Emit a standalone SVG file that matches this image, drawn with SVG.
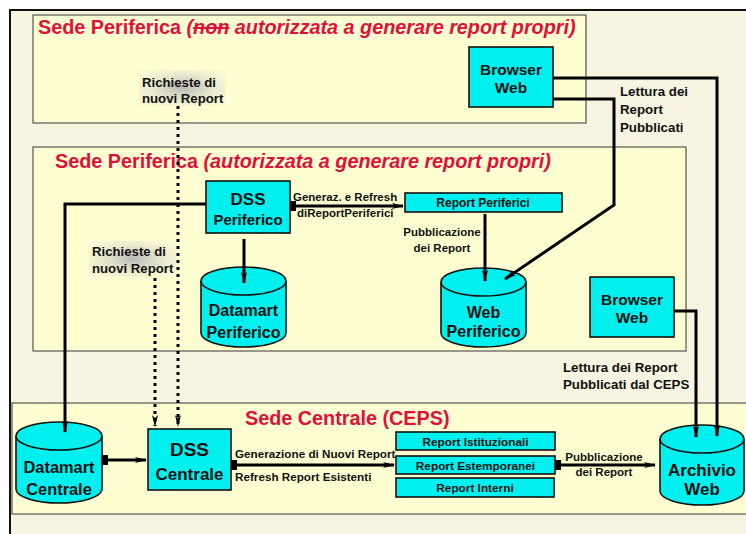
<svg xmlns="http://www.w3.org/2000/svg" width="746" height="534" viewBox="0 0 746 534">
<style>
.zone{fill:#ffffd2;stroke:#555;stroke-width:1.2}
.node{fill:#00f0f0;stroke:#111;stroke-width:1.6}
.title{font-family:"Liberation Sans",Arial,sans-serif;font-weight:bold;fill:#e0103a;font-size:19.8px}
.t{font-family:"Liberation Sans",Arial,sans-serif;font-weight:bold;fill:#111}
.conn{fill:none;stroke:#000;stroke-width:3}
.dot{fill:none;stroke:#000;stroke-width:3;stroke-dasharray:3 4}
</style>
<defs>
<marker id="ah" viewBox="0 0 12 8" refX="11" refY="4" markerWidth="12" markerHeight="8" markerUnits="userSpaceOnUse" orient="auto"><path d="M0,1 L12,4 L0,7 L3,4 Z" fill="#000"/></marker>
<marker id="sq" viewBox="0 0 6 10" refX="1" refY="5" markerWidth="6" markerHeight="10" markerUnits="userSpaceOnUse" orient="auto"><rect x="0" y="0" width="6" height="10" fill="#000"/></marker>
<radialGradient id="gl" cx="0.5" cy="0.5" r="0.6"><stop offset="0" stop-color="#b8b8b8"/><stop offset="1" stop-color="#ececd8" stop-opacity="0.3"/></radialGradient>
</defs>
<rect x="0" y="0" width="746" height="534" fill="#fff"/>
<rect x="10" y="10" width="740" height="530" fill="#f7f4e2"/>
<path d="M10,534 V10 H746" fill="none" stroke="#111" stroke-width="2"/>

<g id="zone-non-autorizzata">
<rect class="zone" x="33" y="15" width="553" height="108"/>
<text class="title" x="38" y="34">Sede Periferica <tspan font-style="italic">(<tspan text-decoration="line-through">non</tspan> autorizzata a generare report propri)</tspan></text>
</g>
<g id="zone-autorizzata">
<rect class="zone" x="33" y="147" width="653" height="204"/>
<text class="title" x="55" y="168">Sede Periferica <tspan font-style="italic">(autorizzata a generare report propri)</tspan></text>
</g>
<g id="zone-centrale">
<rect class="zone" x="12" y="403" width="740" height="111"/>
<text class="title" x="245" y="425">Sede Centrale (CEPS)</text>
</g>

<g id="label-richieste-1">
<rect x="139" y="70" width="87" height="36" fill="url(#gl)"/>
<text class="t" font-size="13.2" x="142" y="87">Richieste di</text>
<text class="t" font-size="13.2" x="142" y="103">nuovi Report</text>
</g>
<g id="label-richieste-2">
<rect x="89" y="241" width="87" height="36" fill="url(#gl)"/>
<text class="t" font-size="13.2" x="92" y="256">Richieste di</text>
<text class="t" font-size="13.2" x="92" y="273">nuovi Report</text>
</g>

<g id="browser-web-1">
<rect class="node" x="469" y="47" width="84" height="60"/>
<text class="t" font-size="15.5" x="511" y="75" text-anchor="middle">Browser</text>
<text class="t" font-size="15.5" x="511" y="93" text-anchor="middle">Web</text>
</g>
<g id="dss-periferico">
<rect class="node" x="206" y="181" width="84" height="52"/>
<text class="t" font-size="17" x="248" y="205" text-anchor="middle">DSS</text>
<text class="t" font-size="15" x="248" y="225" text-anchor="middle">Periferico</text>
</g>
<g id="report-periferici">
<rect class="node" x="405" y="193" width="157" height="19"/>
<text class="t" font-size="12" x="483" y="207" text-anchor="middle">Report Periferici</text>
</g>
<g id="datamart-periferico">
<path class="node" d="M201,281 V333 A42.5,14 0 0 0 286,333 V281"/>
<ellipse class="node" cx="243.5" cy="281" rx="42.5" ry="14"/>
<text class="t" font-size="16" x="243.5" y="316" text-anchor="middle">Datamart</text>
<text class="t" font-size="16" x="243.5" y="338" text-anchor="middle">Periferico</text>
</g>
<g id="web-periferico">
<path class="node" d="M441,282 V333 A42.5,14 0 0 0 526,333 V282"/>
<ellipse class="node" cx="483.5" cy="282" rx="42.5" ry="14"/>
<text class="t" font-size="16" x="483.5" y="318" text-anchor="middle">Web</text>
<text class="t" font-size="16" x="483.5" y="337" text-anchor="middle">Periferico</text>
</g>
<g id="browser-web-2">
<rect class="node" x="590" y="277" width="84" height="60"/>
<text class="t" font-size="15.5" x="632" y="305" text-anchor="middle">Browser</text>
<text class="t" font-size="15.5" x="632" y="323" text-anchor="middle">Web</text>
</g>
<g id="datamart-centrale">
<path class="node" d="M16,436 V489 A43,14 0 0 0 102,489 V436"/>
<ellipse class="node" cx="59" cy="436" rx="43" ry="14"/>
<text class="t" font-size="16.4" x="59" y="473" text-anchor="middle">Datamart</text>
<text class="t" font-size="16.4" x="59" y="495" text-anchor="middle">Centrale</text>
</g>
<g id="dss-centrale">
<rect class="node" x="148" y="429" width="83" height="61"/>
<text class="t" font-size="19" x="189.5" y="456" text-anchor="middle">DSS</text>
<text class="t" font-size="17" x="189.5" y="480" text-anchor="middle">Centrale</text>
</g>
<g id="report-istituzionali">
<rect class="node" x="396" y="432" width="159" height="18"/>
<text class="t" font-size="11.8" x="475.5" y="445.5" text-anchor="middle">Report Istituzionali</text>
</g>
<g id="report-estemporanei">
<rect class="node" x="396" y="456" width="159" height="18"/>
<text class="t" font-size="11.8" x="475.5" y="469.5" text-anchor="middle">Report Estemporanei</text>
</g>
<g id="report-interni">
<rect class="node" x="396" y="478" width="158" height="19"/>
<text class="t" font-size="11.8" x="475" y="492" text-anchor="middle">Report Interni</text>
</g>
<g id="archivio-web">
<path class="node" d="M660,439 V491 A42,14 0 0 0 744,491 V439"/>
<ellipse class="node" cx="702" cy="439" rx="42" ry="14"/>
<text class="t" font-size="17" x="702" y="476" text-anchor="middle">Archivio</text>
<text class="t" font-size="17" x="702" y="495" text-anchor="middle">Web</text>
</g>

<g id="connectors">
<path class="dot" d="M178,106 V426" marker-end="url(#ah)"/>
<path class="dot" d="M155,278 V426" marker-end="url(#ah)"/>
<path class="conn" d="M553,78 H717 V436" marker-end="url(#ah)"/>
<path class="conn" d="M553,99 H614 V205 L505,279" stroke-width="2.5" marker-end="url(#ah)"/>
<path class="conn" d="M206,204 H65 V432" marker-end="url(#ah)"/>
<path class="conn" d="M244,239 V283" marker-end="url(#ah)"/>
<path class="conn" d="M291,206 H403" marker-start="url(#sq)" marker-end="url(#ah)"/>
<path class="conn" d="M485,214 V281" marker-end="url(#ah)"/>
<path class="conn" d="M674,311 H696 V437" marker-end="url(#ah)"/>
<path class="conn" d="M103,460 H146" marker-start="url(#sq)" marker-end="url(#ah)"/>
<path class="conn" d="M232,465 H394" marker-start="url(#sq)" marker-end="url(#ah)"/>
<path class="conn" d="M556,465 H655" marker-start="url(#sq)" marker-end="url(#ah)"/>
</g>

<g id="connector-labels">
<text class="t" font-size="13.3" x="620" y="96">Lettura dei</text>
<text class="t" font-size="13.3" x="620" y="114">Report</text>
<text class="t" font-size="13.3" x="620" y="132">Pubblicati</text>
<text class="t" font-size="11.5" x="293" y="201">Generaz. e Refresh</text>
<text class="t" font-size="11.5" x="297" y="217">diReportPeriferici</text>
<text class="t" font-size="11.5" x="442" y="236" text-anchor="middle">Pubblicazione</text>
<text class="t" font-size="11.5" x="442" y="252" text-anchor="middle">dei Report</text>
<text class="t" font-size="13.3" x="563" y="372">Lettura dei Report</text>
<text class="t" font-size="13.3" x="563" y="389">Pubblicati dal CEPS</text>
<text class="t" font-size="11.7" x="235" y="458">Generazione di Nuovi Report</text>
<text class="t" font-size="11.7" x="235" y="481">Refresh Report Esistenti</text>
<text class="t" font-size="11.5" x="604" y="461" text-anchor="middle">Pubblicazione</text>
<text class="t" font-size="11.5" x="604" y="476" text-anchor="middle">dei Report</text>
</g>
</svg>
